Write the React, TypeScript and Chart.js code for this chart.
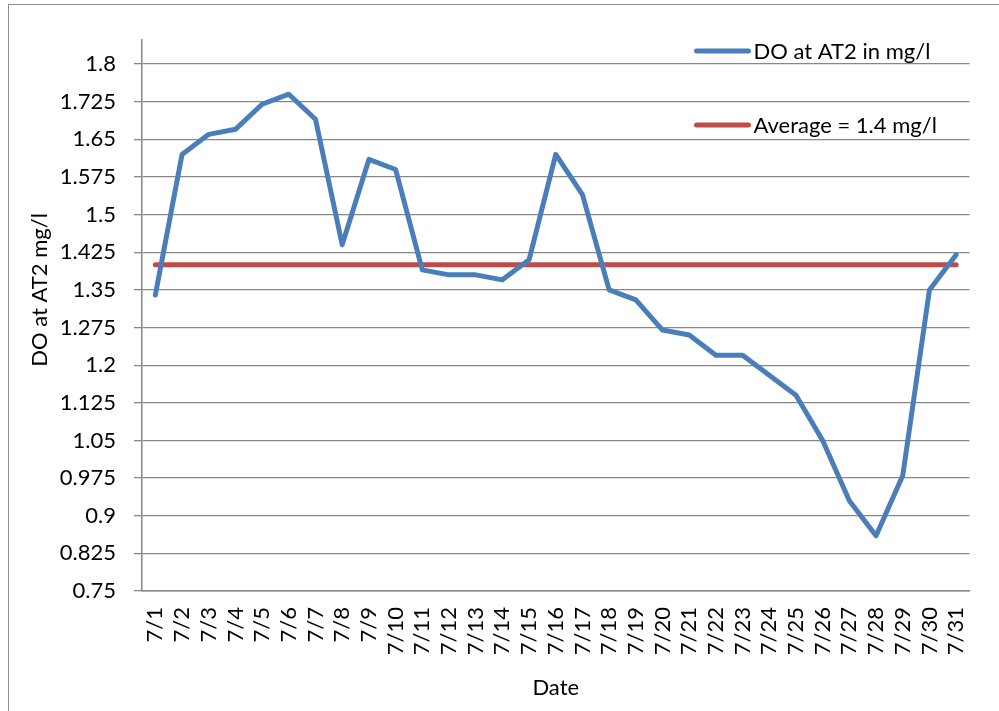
import React, { useEffect, useRef } from "react";
import { Chart, registerables } from "chart.js";

Chart.register(...registerables);

const DATES = [
  "7/1", "7/2", "7/3", "7/4", "7/5", "7/6", "7/7", "7/8", "7/9", "7/10",
  "7/11", "7/12", "7/13", "7/14", "7/15", "7/16", "7/17", "7/18", "7/19", "7/20",
  "7/21", "7/22", "7/23", "7/24", "7/25", "7/26", "7/27", "7/28", "7/29", "7/30", "7/31",
];

const DO_AT2 = [
  1.34, 1.62, 1.66, 1.67, 1.72, 1.74, 1.69, 1.44, 1.61, 1.59,
  1.39, 1.38, 1.38, 1.37, 1.41, 1.62, 1.54, 1.35, 1.33, 1.27,
  1.26, 1.22, 1.22, 1.18, 1.14, 1.05, 0.93, 0.86, 0.98, 1.35, 1.42,
];

const AVERAGE = [
  1.4, 1.4, 1.4, 1.4, 1.4, 1.4, 1.4, 1.4, 1.4, 1.4,
  1.4, 1.4, 1.4, 1.4, 1.4, 1.4, 1.4, 1.4, 1.4, 1.4,
  1.4, 1.4, 1.4, 1.4, 1.4, 1.4, 1.4, 1.4, 1.4, 1.4, 1.4,
];

const Y_TICKS = [
  0.75, 0.825, 0.9, 0.975, 1.05, 1.125, 1.2, 1.275, 1.35, 1.425, 1.5, 1.575, 1.65, 1.725, 1.8,
];

const SERIES_LABELS = ["DO at AT2 in mg/l", "Average = 1.4 mg/l"];
const Y_TITLE = "DO at AT2 mg/l";
const X_TITLE = "Date";

const FONT = "Lato, 'Noto Sans', sans-serif";
const GRID = "#878787";
const BLUE = "#4a7ebb";
const RED = "#be4b48";

const excelLegend = {
  id: "excelLegend",
  afterDraw(chart: any) {
    const { ctx, chartArea } = chart;
    const x0 = chartArea.right - 275;
    const ys = [chartArea.top + 11, chartArea.top + 85];
    ctx.save();
    chart.data.datasets.forEach((ds: any, i: number) => {
      const y = ys[i];
      ctx.strokeStyle = ds.borderColor;
      ctx.lineWidth = 5;
      ctx.lineCap = "round";
      ctx.beginPath();
      ctx.moveTo(x0 + 2, y);
      ctx.lineTo(x0 + 54, y);
      ctx.stroke();
      ctx.fillStyle = "#000";
      ctx.font = `22px ${FONT}`;
      ctx.textAlign = "left";
      ctx.textBaseline = "middle";
      ctx.fillText(ds.label, x0 + 59, y + 1);
    });
    ctx.restore();
  },
};

const yTitlePlugin = {
  id: "yTitlePlugin",
  afterDraw(chart: any) {
    const { ctx, chartArea } = chart;
    ctx.save();
    ctx.translate(chartArea.left - 102, chartArea.top + 250);
    ctx.rotate(-Math.PI / 2);
    ctx.fillStyle = "#000";
    ctx.font = `22px ${FONT}`;
    ctx.textAlign = "center";
    ctx.textBaseline = "middle";
    ctx.fillText(Y_TITLE, 0, 0);
    ctx.restore();
  },
};

export default function App() {
  const ref = useRef<HTMLCanvasElement | null>(null);

  useEffect(() => {
    if (!ref.current) return;
    const chart = new Chart(ref.current, {
      type: "line",
      data: {
        labels: DATES,
        datasets: [
          {
            label: SERIES_LABELS[0],
            data: DO_AT2,
            borderColor: BLUE,
            backgroundColor: BLUE,
            borderWidth: 5,
            pointRadius: 0,
            tension: 0,
            borderCapStyle: "round",
            borderJoinStyle: "round",
          },
          {
            label: SERIES_LABELS[1],
            data: AVERAGE,
            borderColor: RED,
            backgroundColor: RED,
            borderWidth: 5,
            pointRadius: 0,
            tension: 0,
            borderCapStyle: "round",
          },
        ],
      },
      options: {
        animation: false,
        responsive: false,
        layout: { padding: { top: 40, right: 28, left: 0, bottom: 0 } },
        plugins: {
          legend: { display: false },
          tooltip: { enabled: false },
        },
        scales: {
          x: {
            type: "category",
            offset: true,
            grid: { display: false, drawTicks: false },
            border: { display: true, color: GRID, width: 1.5 },
            ticks: {
              autoSkip: false,
              minRotation: 90,
              maxRotation: 90,
              padding: 16,
              color: "#000",
              font: { family: FONT, size: 22 },
            },
            title: {
              display: true,
              text: X_TITLE,
              color: "#000",
              font: { family: FONT, size: 22 },
              padding: { top: 0, bottom: 10 },
            },
            afterFit: (s: any) => {
              s.height = 120;
            },
          },
          y: {
            min: 0.75,
            max: 1.848,
            grid: {
              color: GRID,
              lineWidth: 1.3,
              drawTicks: true,
              tickLength: 8,
            },
            border: { display: true, color: GRID, width: 1.5 },
            ticks: {
              padding: 18,
              color: "#000",
              font: { family: FONT, size: 22 },
              callback: (v: any) => String(v),
            },
            afterBuildTicks: (s: any) => {
              s.ticks = Y_TICKS.map((v) => ({ value: v }));
            },
            afterFit: (s: any) => {
              s.width = 142;
            },
          },
        },
      },
      plugins: [excelLegend, yTitlePlugin],
    });
    return () => chart.destroy();
  }, []);

  return (
    <div
      style={{
        position: "fixed",
        left: 0,
        top: 0,
        width: 999,
        height: 711,
        background: "#fff",
        overflow: "hidden",
      }}
    >
      <div
        style={{
          position: "absolute",
          left: 8,
          top: 4,
          width: 1100,
          height: 800,
          borderLeft: "1.5px solid #8c8c8c",
          borderTop: "1.5px solid #8c8c8c",
        }}
      />
      <canvas
        ref={ref}
        width={999}
        height={711}
        style={{ position: "absolute", left: 0, top: 0 }}
      />
    </div>
  );
}
